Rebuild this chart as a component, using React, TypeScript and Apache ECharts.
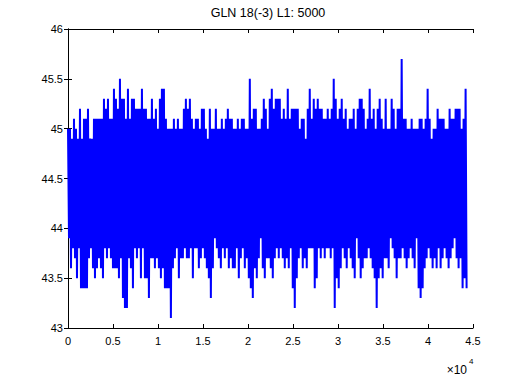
import React, { useEffect, useRef } from "react";
import * as echarts from "echarts";

// Chart title and axis labels
const titleText = "GLN 18(-3) L1: 5000";
const xTickValues = [0, 5000, 10000, 15000, 20000, 25000, 30000, 35000, 40000, 45000];
const yTickValues = [43, 43.5, 44, 44.5, 45, 45.5, 46];
const xExponentBase = "×10";
const xExponent = "4";

// Sample spacing (x units between successive envelope samples)
const sampleStep = 222;

// Upper envelope of the signal (one value per sample)
const highs = [
  45.0, 45.0, 44.9, 45.1, 45.0, 44.9, 45.2, 44.9, 45.1, 45.1,
  45.2, 44.9, 44.9, 45.1, 45.1, 45.1, 45.1, 45.1, 45.3, 45.2,
  45.3, 45.1, 45.1, 45.4, 45.3, 45.2, 45.5, 45.3, 45.3, 45.1,
  45.4, 45.1, 45.3, 45.3, 45.2, 45.2, 45.2, 45.4, 45.2, 45.2,
  45.1, 45.1, 45.3, 45.1, 45.2, 45.0, 45.3, 45.4, 45.4, 45.1,
  45.0, 45.0, 45.0, 45.1, 45.0, 45.1, 45.0, 45.0, 45.2, 45.3,
  45.2, 45.3, 45.1, 45.0, 45.1, 45.1, 45.0, 45.2,
  45.2, 45.0, 44.9, 45.2, 45.0, 45.0, 45.2, 45.0, 45.0, 45.1,
  45.0, 45.1, 45.2, 45.1, 45.1, 45.0, 45.0, 45.1, 45.0, 45.1,
  45.1, 45.0, 45.0, 45.5, 45.1, 45.2, 45.2, 45.0, 45.0, 45.1,
  45.3, 45.2, 45.0, 45.3, 45.4, 45.2, 45.3, 45.3, 45.3, 45.1,
  45.2, 45.1, 45.4, 45.1, 45.2, 45.2, 45.2, 45.2, 45.0, 45.1,
  45.1, 44.9, 45.2, 45.4, 45.1, 45.3, 45.2, 45.3, 45.2, 45.2,
  45.1, 45.1, 45.2, 45.1, 45.2, 45.5,
  45.3, 45.1, 45.2, 45.3, 45.1, 45.2, 45.0, 45.1, 45.1, 45.2,
  45.0, 45.2, 45.3, 45.3, 45.2, 45.0, 45.1, 45.4, 45.1, 45.2,
  45.0, 45.2, 45.3, 45.1, 45.0, 45.3, 45.0, 45.0, 45.3, 45.2,
  45.0, 45.2, 45.2, 45.7, 45.1, 45.1, 45.0, 45.0, 45.1, 45.0,
  45.0, 45.0, 45.1, 45.1, 45.0, 45.1, 45.4, 45.1, 44.9, 45.0,
  45.0, 45.2, 45.1, 45.1, 45.1, 45.0, 45.0, 45.2, 45.1, 45.1,
  45.2, 45.2, 45.2, 45.0, 45.1, 45.4,
];

// Lower envelope of the signal (one value per sample)
const lows = [
  43.9, 43.6, 43.8, 43.7, 43.5, 43.8, 43.4, 43.4, 43.4, 43.4,
  43.7, 43.8, 43.6, 43.5, 43.6, 43.7, 43.6, 43.5, 43.8, 43.7,
  43.8, 43.7, 43.6, 43.6, 43.6, 43.5, 43.7, 43.3, 43.2, 43.2,
  43.7, 43.6, 43.4, 43.8, 43.7, 43.8, 43.5, 43.8, 43.5, 43.5,
  43.3, 43.7, 43.7, 43.6, 43.7, 43.6, 43.5, 43.6, 43.4, 43.4,
  43.4, 43.1, 43.6, 43.7, 43.8, 43.5, 43.7, 43.7, 43.8, 43.7,
  43.7, 43.8, 43.5, 43.8, 43.8, 43.6, 43.7, 43.8,
  43.7, 43.6, 43.5, 43.3, 43.6, 43.9, 43.8, 43.7, 43.6, 43.8,
  43.7, 43.8, 43.6, 43.7, 43.6, 43.6, 43.8, 43.5, 43.7, 43.8,
  43.6, 43.7, 43.5, 43.4, 43.3, 43.6, 43.5, 43.7, 43.9, 43.6,
  43.5, 43.7, 43.7, 43.6, 43.5, 43.7, 43.8, 43.7, 43.8, 43.7,
  43.6, 43.7, 43.6, 43.8, 43.4, 43.2, 43.5, 43.7, 43.8, 43.6,
  43.7, 43.6, 43.8, 43.8, 43.8, 43.4, 43.5, 43.8, 43.7, 43.8,
  43.7, 43.8, 43.8, 43.7, 43.8, 43.2,
  43.5, 43.4, 43.6, 43.8, 43.7, 43.6, 43.8, 43.7, 43.6, 43.5,
  43.9, 43.7, 43.5, 43.6, 43.7, 43.7, 43.8, 43.7, 43.6, 43.5,
  43.2, 43.5, 43.6, 43.5, 43.7, 43.7, 43.6, 43.9, 43.8, 43.7,
  43.5, 43.7, 43.7, 43.8, 43.7, 43.6, 43.7, 43.8, 43.7, 43.6,
  43.9, 43.4, 43.3, 43.4, 43.6, 43.7, 43.8, 43.7, 43.6, 43.7,
  43.6, 43.8, 43.6, 43.7, 43.8, 43.7, 43.6, 43.7, 43.8, 43.9,
  43.7, 43.6, 43.7, 43.4, 43.5, 43.4,
];

const FONT = '"Liberation Sans", Arial, Helvetica, sans-serif';

export default function App() {
  const ref = useRef<HTMLDivElement | null>(null);

  useEffect(() => {
    if (!ref.current) return;
    const chart = echarts.init(ref.current, null, { renderer: "svg" });

    const n = Math.min(highs.length, lows.length);
    const data: [number, number][] = [];
    for (let i = 0; i < n; i++) {
      data.push([i * sampleStep, highs[i]]);
      data.push([i * sampleStep + sampleStep / 2, lows[i]]);
    }

    const xMin = xTickValues[0];
    const xMax = xTickValues[xTickValues.length - 1];
    const xInt = xTickValues[1] - xTickValues[0];
    const yMin = yTickValues[0];
    const yMax = yTickValues[yTickValues.length - 1];
    const yInt = yTickValues[1] - yTickValues[0];

    const axisLine = { show: true, lineStyle: { color: "#000", width: 1 } };
    const tick = { show: true, inside: true, length: 4, lineStyle: { color: "#000" } };
    const label = { color: "#000", fontSize: 11, fontFamily: FONT };

    chart.setOption({
      animation: false,
      backgroundColor: "#fff",
      grid: { left: 68, right: 50, top: 29, bottom: 48, containLabel: false },
      xAxis: [
        {
          type: "value",
          min: xMin,
          max: xMax,
          interval: xInt,
          position: "bottom",
          axisLine,
          axisTick: tick,
          splitLine: { show: false },
          axisLabel: {
            ...label,
            margin: 7,
            formatter: (v: number) => String(v / 10000),
          },
        },
        {
          type: "value",
          min: xMin,
          max: xMax,
          interval: xInt,
          position: "top",
          axisLine,
          axisTick: tick,
          splitLine: { show: false },
          axisLabel: { show: false },
        },
      ],
      yAxis: [
        {
          type: "value",
          min: yMin,
          max: yMax,
          interval: yInt,
          position: "left",
          axisLine,
          axisTick: tick,
          splitLine: { show: false },
          axisLabel: { ...label, margin: 5, formatter: (v: number) => String(v) },
        },
        {
          type: "value",
          min: yMin,
          max: yMax,
          interval: yInt,
          position: "right",
          axisLine,
          axisTick: tick,
          splitLine: { show: false },
          axisLabel: { show: false },
        },
      ],
      series: [
        {
          type: "line",
          xAxisIndex: 0,
          yAxisIndex: 0,
          data,
          showSymbol: false,
          symbol: "none",
          lineStyle: { color: "#0000ff", width: 2, join: "miter", cap: "butt", miterLimit: 1 },
          silent: true,
          z: 1,
        },
      ],
      graphic: [
        {
          type: "text",
          x: 268,
          y: 13,
          style: {
            text: titleText,
            fill: "#000",
            font: `12.5px ${FONT}`,
            textAlign: "center",
            textVerticalAlign: "middle",
          },
        },
        {
          type: "text",
          x: 467,
          y: 370,
          style: {
            text: xExponentBase,
            fill: "#000",
            font: `12px ${FONT}`,
            textAlign: "right",
            textVerticalAlign: "middle",
          },
        },
        {
          type: "text",
          x: 469,
          y: 361,
          style: {
            text: xExponent,
            fill: "#000",
            font: `8px ${FONT}`,
            textAlign: "left",
            textVerticalAlign: "middle",
          },
        },
      ],
    });

    return () => chart.dispose();
  }, []);

  return (
    <div
      ref={ref}
      style={{ position: "fixed", left: 0, top: 0, width: 523, height: 376, background: "#fff" }}
    />
  );
}
